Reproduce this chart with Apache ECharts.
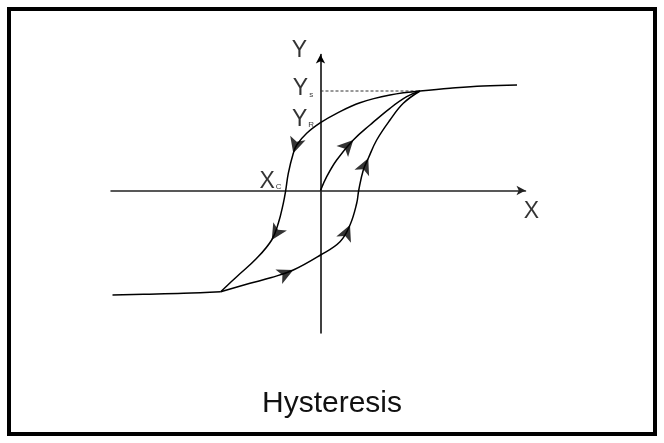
<!DOCTYPE html>
<html>
<head>
<meta charset="utf-8">
<script src="https://cdn.jsdelivr.net/npm/echarts@6/dist/echarts.min.js"></script>
<style>html,body{margin:0;padding:0;background:#fff;}#c{width:664px;height:443px;}</style>
</head>
<body>
<div id="c"></div>
<script>
// ---- data (abstract X/Y units of the hysteresis diagram) ----
const initialCurve = [[0,0],[0.62,1.38],[1.62,3.05],[3.28,5.05],[4.95,6.55],[6.95,8.22],[8.62,9.38],[9.95,9.95]];
const descendingBranch = [[9.95,9.95],[6.95,9.55],[3.95,8.78],[1.62,7.72],[0,6.78],[-1.38,5.72],[-2.38,4.55],[-2.72,3.72],[-3.22,1.72],[-3.48,0],[-3.72,-1.28],[-4.22,-3.28],[-4.88,-4.95],[-6.38,-6.78],[-8.38,-8.62],[-9.98,-10.12]];
const ascendingBranch = [[-9.98,-10.12],[-7.05,-9.28],[-4.9,-8.7],[-2.72,-7.95],[0,-6.45],[1.95,-5.12],[2.95,-3.45],[3.62,-1.28],[3.82,0],[4.28,2.05],[4.78,3.22],[5.62,5.05],[6.95,7.05],[8.28,8.72],[9.95,9.95]];
const upperTail = [[9.95,9.95],[12.95,10.22],[16.25,10.45],[19.65,10.55]];
const lowerTail = [[-20.8,-10.45],[-17.7,-10.38],[-13.7,-10.28],[-9.98,-10.12]];
const saturationY = 9.95;
const saturationX = 9.95;
const arrowSpots = [['initial',3],['descending',7],['descending',12],['ascending',3],['ascending',6],['ascending',10]];
const axisLabels = [
  {text:'Y', sub:'', pos:[-2.1,13.95]},
  {text:'X', sub:'', pos:[21.1,-2.1]},
  {text:'Y', sub:'s', pos:[-1.75,10.15]},
  {text:'Y', sub:'R', pos:[-1.75,7.1]},
  {text:'X', sub:'C', pos:[-5.0,0.9]}
];
const chartTitle = 'Hysteresis';

const curves = {initial: initialCurve, descending: descendingBranch, ascending: ascendingBranch};
const arrowData = arrowSpots.map(([name, i]) => {
  const c = curves[name];
  const p = c[i], a = c[i-1], b = c[i+1];
  const ang = Math.atan2(b[1]-a[1], b[0]-a[0]) * 180 / Math.PI;
  return {value: p, symbolRotate: ang - 90};
});

const lineStyle = {color:'#000', width:1.5};
function curveSeries(data){
  return {type:'line', data:data, smooth:0.4, showSymbol:false, symbol:'none', lineStyle:lineStyle, silent:true, z:3};
}

const chart = echarts.init(document.getElementById('c'), null, {renderer:'canvas'});
chart.setOption({
  animation:false,
  backgroundColor:'#fff',
  title:{text:chartTitle, left:'center', top:384, textStyle:{fontFamily:'Liberation Sans, Arial, sans-serif', fontSize:30, fontWeight:'normal', color:'#111'}},
  grid:{left:111, right:138.5, top:54.5, bottom:110},
  xAxis:{type:'value', min:-20.95, max:20.5, splitLine:{show:false}, axisTick:{show:false}, axisLabel:{show:false},
    axisLine:{show:true, onZero:true, symbol:['none','arrow'], symbolSize:[7,9], lineStyle:{color:'#222', width:1.5}}},
  yAxis:{type:'value', min:-14.25, max:13.6, splitLine:{show:false}, axisTick:{show:false}, axisLabel:{show:false},
    axisLine:{show:true, onZero:true, symbol:['none','arrow'], symbolSize:[7,9], lineStyle:{color:'#000', width:1.5}}},
  graphic:[{type:'rect', shape:{x:9, y:9, width:646, height:425}, style:{fill:'none', stroke:'#000', lineWidth:4}, silent:true}],
  series:[
    curveSeries(initialCurve),
    curveSeries(descendingBranch),
    curveSeries(ascendingBranch),
    curveSeries(upperTail),
    curveSeries(lowerTail),
    {type:'line', data:[[0,saturationY],[saturationX,saturationY]], showSymbol:false, symbol:'none',
      lineStyle:{color:'#333', width:1, type:[3,2]}, z:2},
    {type:'scatter', data:arrowData, symbol:'arrow', symbolSize:[12,16], itemStyle:{color:'#000'}, z:4, clip:false},
    {type:'scatter', clip:false, symbolSize:0, z:5,
      data: axisLabels.map(l => ({value:l.pos, name:l.text})),
      label:{show:true, position:'inside', color:'#000',
        formatter: p => '{m|' + axisLabels[p.dataIndex].text + '}' + (axisLabels[p.dataIndex].sub ? '{s|' + axisLabels[p.dataIndex].sub + '}' : ''),
        rich:{
          m:{fontFamily:'Liberation Sans Narrow, Liberation Sans, Arial, sans-serif', fontSize:23, color:'#000'},
          s:{fontFamily:'Liberation Sans, Arial, sans-serif', fontSize:8, color:'#000', verticalAlign:'bottom', padding:[0,0,2,1]}
        }}}
  ]
});
</script>
</body>
</html>
